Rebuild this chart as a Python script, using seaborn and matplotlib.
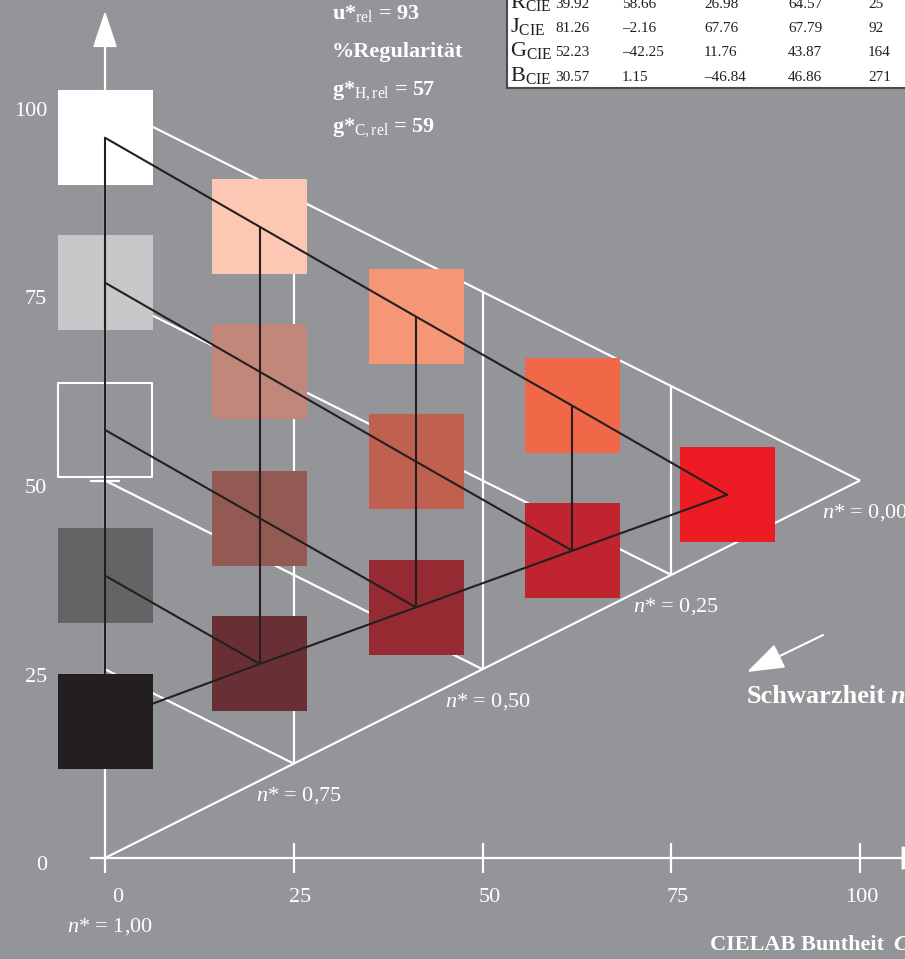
import numpy as np
import pandas as pd
import matplotlib
matplotlib.use('Agg')
import matplotlib.pyplot as plt
import seaborn as sns
from matplotlib.patches import Polygon, Rectangle

# colour samples, one list per chroma column (white/grey column first)
col_chroma = [0.0, 20.5, 41.2, 61.9, 82.4]
col_lightness = [
    [95.4, 76.2, 56.7, 37.4, 18.1],
    [83.6, 64.4, 45.0, 25.7],
    [71.7, 52.5, 33.2],
    [59.9, 40.7],
    [48.1],
]
col_colors = [
    ['#ffffff', '#c7c8ca', 'none', '#636466', '#231f20'],
    ['#fcc8b3', '#c1877a', '#925a52', '#683035'],
    ['#f59677', '#c0604f', '#962a33'],
    ['#f06848', '#bf242f'],
    ['#ed1c24'],
]

x_ticks = [0, 25, 50, 75, 100]
y_ticks = [0, 25, 50, 75, 100]
n_levels = [1.00, 0.75, 0.50, 0.25, 0.00]

header_lines = [r'u*$_{\mathrm{rel}}$ = 93', '%Regularität',
                r'g*$_{\mathrm{H,rel}}$ = 57', r'g*$_{\mathrm{C,rel}}$ = 59']
header_base = [19, 57, 95, 132]

table_rows = ['R', 'J', 'G', 'B']
table_L = ['39.92', '81.26', '52.23', '30.57']
table_a = ['58.66', '–2.16', '–42.25', '1.15']
table_b = ['26.98', '67.76', '11.76', '–46.84']
table_C = ['64.57', '67.79', '43.87', '46.86']
table_h = ['25', '92', '164', '271']

bg = '#939598'
dark = '#231f20'
PX = 1 / 7.55  # data units per pixel

sns.set_theme(style='white')
plt.rcParams['font.family'] = ['Liberation Serif', 'DejaVu Serif']
plt.rcParams['mathtext.fontset'] = 'custom'
plt.rcParams['mathtext.rm'] = 'Liberation Serif'
plt.rcParams['mathtext.it'] = 'Liberation Serif:italic'
plt.rcParams['mathtext.bf'] = 'Liberation Serif:bold'

rows = []
for i, cx in enumerate(col_chroma):
    for j, (ly, c) in enumerate(zip(col_lightness[i], col_colors[i])):
        rows.append({'chroma': cx, 'lightness': ly, 'color': c, 'col': i, 'row': j})
df = pd.DataFrame(rows)

fig = plt.figure(figsize=(9.05, 9.59), dpi=100, facecolor=bg)
ax = fig.add_axes([0, 0, 1, 1])
ax.set_xlim(-105 * PX, 800 * PX)
ax.set_ylim(-101 * PX, 858 * PX)
ax.axis('off')

# white triangle grid of constant blackness n*
wl = dict(color='white', lw=1.6, zorder=1, solid_capstyle='butt')
ax.plot([0, 100], [0, 50], **wl)
for n in n_levels[1:]:
    c = 100 * (1 - n)
    ax.plot([0, c], [c, c / 2], **wl)
for t in x_ticks[1:4]:
    ax.plot([t, t], [t / 2, 100 - t / 2], **wl)

# axes with arrows
ax.plot([0, 0], [-2, 107.5], **wl)
ax.plot([-2, 105.6], [0, 0], **wl)
ax.add_patch(Polygon([[-1.46, 107.5], [1.46, 107.5], [0, 111.9]], color='white', zorder=1))
ax.add_patch(Polygon([[105.6, -1.46], [105.6, 1.46], [110.0, 0]], color='white', zorder=1))
for t in x_ticks[1:]:
    ax.plot([t, t], [-2, 2], **wl)
ax.plot([-2, 2], [50, 50], **wl)

for t in x_ticks:
    ax.text(t + 18 * PX, -40 * PX, str(t), ha='right', va='center', color='white', fontsize=16)
for t in y_ticks:
    ax.text(-58 * PX, t - 8 * PX, str(t), ha='right', va='center', color='white', fontsize=16)

for n in n_levels:
    c = 100 * (1 - n)
    yy = c / 2 - 32 * PX if n < 1 else -69 * PX
    ax.text(c + 5 * PX, yy, r'$n$* = ' + f'{n:.2f}'.replace('.', ','),
            ha='center', va='center', color='white', fontsize=16)

# colour squares
filled = df[df['color'] != 'none']
sns.scatterplot(data=filled, x='chroma', y='lightness', hue='color',
                palette={c: c for c in filled['color']}, marker='s', s=(95 * 0.72) ** 2,
                linewidth=0, legend=False, ax=ax, zorder=2)
hollow = df[df['color'] == 'none']
ax.scatter(hollow['chroma'], hollow['lightness'], marker='s', s=(94 * 0.72) ** 2,
           facecolors='none', edgecolors='white', linewidths=1.5, zorder=2)

# black connecting lines
bl = dict(color=dark, lw=1.5, zorder=3)
for i, cx in enumerate(col_chroma):
    ys = col_lightness[i]
    if len(ys) > 1:
        ax.plot([cx] * len(ys), ys, **bl)
for j in range(4):
    sub = df[df['row'] == j].sort_values('col')
    ax.plot(sub['chroma'], sub['lightness'], **bl)
edge = df[df['row'] == df.groupby('col')['row'].transform('max')].sort_values('col')
ax.plot(edge['chroma'], edge['lightness'], **bl)

# header text
for s, b in zip(header_lines, header_base):
    ax.text(227 * PX, (858 - b) * PX, s, ha='left', va='baseline',
            color='white', fontsize=16, fontweight='bold')

# table top right
ax.add_patch(Rectangle(((507 - 105) * PX, (858 - 88) * PX), 420 * PX, 120 * PX,
                       facecolor='white', edgecolor='#4a4a4c', lw=1.5, zorder=5))
col_x = [555, 622, 704, 788, 868]
for r, name in enumerate(table_rows):
    base = (858 - (8 + 24.2 * r)) * PX
    ax.text((510 - 105) * PX, base, name + r'$_{\mathrm{CIE}}$', ha='left', va='baseline',
            color=dark, fontsize=16, zorder=6)
    vals = [table_L[r], table_a[r], table_b[r], table_C[r], table_h[r]]
    for xp, v in zip(col_x, vals):
        ax.text((xp - 105) * PX, base, v, ha='left', va='baseline', color=dark, fontsize=11, zorder=6)

# blackness arrow and axis titles
ax.annotate('', xy=((747 - 105) * PX, (858 - 672) * PX), xytext=((823 - 105) * PX, (858 - 635) * PX),
            arrowprops=dict(arrowstyle='-|>,head_length=0.4,head_width=0.14', mutation_scale=58,
                            color='white', lw=1.5, shrinkA=0, shrinkB=0))
ax.text((747 - 105) * PX, (858 - 703) * PX, 'Schwarzheit', ha='left', va='baseline',
        color='white', fontsize=19, fontweight='bold')
ax.text((890 - 105) * PX, (858 - 703) * PX, 'n*', ha='left', va='baseline',
        color='white', fontsize=19, fontweight='bold', fontstyle='italic')
ax.text((710 - 105) * PX, (858 - 950) * PX, 'CIELAB Buntheit', ha='left', va='baseline',
        color='white', fontsize=16, fontweight='bold')
ax.text((893 - 105) * PX, (858 - 950) * PX, 'C*', ha='left', va='baseline',
        color='white', fontsize=16, fontweight='bold', fontstyle='italic')

fig.savefig('out.png', dpi=100, facecolor=bg)
